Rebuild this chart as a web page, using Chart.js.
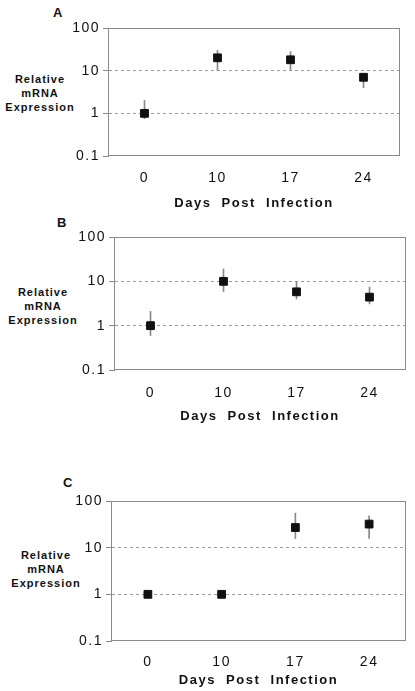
<!DOCTYPE html>
<html>
<head>
<meta charset="utf-8">
<script src="https://cdn.jsdelivr.net/npm/chart.js@4/dist/chart.umd.min.js"></script>
<style>
  body { margin: 0; background: #fff; width: 415px; height: 691px; overflow: hidden; position: relative; }
  canvas { position: absolute; left: 0; }
  .panel-letter { position: absolute; font: bold 13px 'Liberation Sans', Arial, sans-serif; color: #111; }
  .y-title {
    position: absolute; width: 100px; text-align: center;
    font: bold 11px 'Liberation Sans', Arial, sans-serif; line-height: 14px;
    letter-spacing: 1px; color: #111;
  }
</style>
</head>
<body>
<div class="panel-letter" style="left:53px; top:5px">A</div>
<div class="y-title" style="left:-10px; top:72px">Relative<br>mRNA<br>Expression</div>
<canvas id="chart-a" width="415" height="211" style="top:0px"></canvas>

<div class="panel-letter" style="left:57px; top:215px">B</div>
<div class="y-title" style="left:-7px; top:285px">Relative<br>mRNA<br>Expression</div>
<canvas id="chart-b" width="415" height="213" style="top:211px"></canvas>

<div class="panel-letter" style="left:63px; top:475px">C</div>
<div class="y-title" style="left:-4px; top:548px">Relative<br>mRNA<br>Expression</div>
<canvas id="chart-c" width="415" height="264" style="top:424px"></canvas>

<script>
const font_family = "'Liberation Sans', Arial, sans-serif"
const frame_color = '#8a8a8a'
const grid_color = '#9a9a9a'
const error_color = '#888'
const point_color = '#111'

// x categories and y ticks (shared by all three panels)
const days = ['0', '10', '17', '24']
const y_ticks = [0.1, 1, 10, 100]
const x_title = 'Days  Post  Infection'

// panel A
const a_mean = [1, 20, 18, 7]
const a_low = [0.75, 10, 10.5, 4]
const a_high = [2, 30, 28, 8.6]

// panel B
const b_mean = [1, 10, 5.8, 4.4]
const b_low = [0.6, 5.9, 4, 3.1]
const b_high = [2.1, 19, 10, 7.4]

// panel C (no visible error bars at day 0 and 10)
const c_mean = [1, 1, 27, 32]
const c_low = [null, null, 15.7, 15.7]
const c_high = [null, null, 55, 48]

// box round the plot area + spaced lettering like the scan
const frame_plugin = {
    id: 'frame',
    beforeDraw(chart) {
        chart.ctx.letterSpacing = '1.5px'
    },
    beforeDatasetsDraw(chart) {
        const {ctx, chartArea} = chart
        const l = Math.round(chartArea.left) + 0.5
        const t = Math.round(chartArea.top) + 0.5
        const r = Math.round(chartArea.right) - 0.5
        const b = Math.round(chartArea.bottom) - 0.5
        ctx.save()
        ctx.strokeStyle = frame_color
        ctx.lineWidth = 1
        ctx.setLineDash([])
        ctx.strokeRect(l, t, r - l, b - t)
        ctx.restore()
    }
}

function make_panel(canvas_id, mean, low, high, box) {
    const errors = low.map((v, i) => (v === null ? null : [v, high[i]]))

    return new Chart(canvas_id, {
        type: 'bar',
        data: {
            labels: days,
            datasets: [
                {
                    type: 'line',
                    data: mean,
                    showLine: false,
                    pointStyle: 'rect',
                    pointRadius: 5.5,
                    pointBorderWidth: 1,
                    pointBackgroundColor: point_color,
                    pointBorderColor: point_color,
                    order: 1
                },
                {
                    type: 'bar',
                    data: errors,
                    backgroundColor: error_color,
                    borderWidth: 0,
                    barThickness: 1,
                    order: 2
                }
            ]
        },
        options: {
            responsive: false,
            animation: false,
            events: [],
            layout: {
                padding: { top: box.top, right: box.right, left: 0, bottom: 0 }
            },
            plugins: {
                legend: { display: false },
                tooltip: { enabled: false }
            },
            scales: {
                x: {
                    offset: true,
                    grid: { display: false, drawTicks: false },
                    border: { display: false },
                    ticks: {
                        padding: box.tick_pad,
                        maxRotation: 0,
                        autoSkip: false,
                        color: '#111',
                        font: { size: 14, family: font_family }
                    },
                    title: {
                        display: true,
                        text: x_title,
                        padding: 0,
                        color: '#111',
                        font: { size: 13, weight: 'bold', family: font_family }
                    },
                    afterFit: scale => { scale.height = box.x_height }
                },
                y: {
                    type: 'logarithmic',
                    min: 0.1,
                    max: 100,
                    afterBuildTicks: scale => {
                        scale.ticks = y_ticks.map(v => ({ value: v }))
                    },
                    grid: {
                        color: ctx => (ctx.tick && (ctx.tick.value === 1 || ctx.tick.value === 10)) ? grid_color : 'rgba(0,0,0,0)',
                        tickColor: frame_color,
                        tickLength: 5,
                        drawTicks: true
                    },
                    border: { display: true, color: frame_color, dash: [3, 3] },
                    ticks: {
                        padding: 3,
                        color: '#111',
                        font: { size: 14, family: font_family },
                        callback: v => String(v)
                    },
                    afterFit: scale => { scale.width = box.left }
                }
            }
        },
        plugins: [frame_plugin]
    })
}

make_panel('chart-a', a_mean, a_low, a_high, { top: 28, right: 15, left: 108, x_height: 55, tick_pad: 14 })
make_panel('chart-b', b_mean, b_low, b_high, { top: 26, right: 9, left: 114, x_height: 54, tick_pad: 15 })
make_panel('chart-c', c_mean, c_low, c_high, { top: 77, right: 9, left: 111, x_height: 47, tick_pad: 13 })
</script>
</body>
</html>
